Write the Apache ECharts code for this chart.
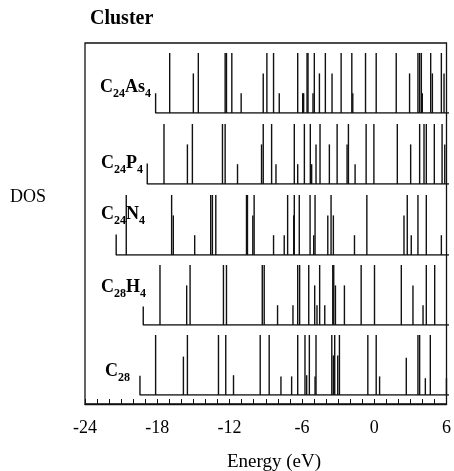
<!DOCTYPE html>
<html>
<head>
<meta charset="utf-8">
<script src="https://cdn.jsdelivr.net/npm/echarts@6/dist/echarts.min.js"></script>
<style>html,body{margin:0;padding:0;background:#fff}#c{width:454px;height:471px}</style>
</head>
<body>
<div id="c"></div>
<script>
// Energy axis
const energyMin = -24;
const energyMax = 6;
const energyStep = 6;

// Panel names (top to bottom) as rich-text parts [main, sub, main, sub]
const clusterNames = [
  ['C', '24', 'As', '4'],
  ['C', '24', 'P', '4'],
  ['C', '24', 'N', '4'],
  ['C', '28', 'H', '4'],
  ['C', '28', '', '']
];

// Lowest level of each spectrum: [energy, edge height]
const spectrumStarts = [
  [-18.18, 0.33],
  [-18.87, 0.34],
  [-21.43, 0.34],
  [-19.20, 0.31],
  [-19.47, 0.32]
];

// Levels: [energy (eV), relative height]
const c24as4Levels = [
  [-17.02, 1], [-15.07, 0.66], [-14.66, 1], [-12.45, 1], [-12.34, 1], [-11.90, 1],
  [-11.13, 0.33], [-9.31, 0.66], [-9.01, 1], [-8.46, 1], [-7.99, 0.33], [-6.47, 1],
  [-6.06, 0.33], [-5.98, 0.33], [-5.70, 1], [-5.62, 1], [-5.21, 0.33], [-5.10, 1],
  [-4.68, 0.66], [-4.19, 1], [-3.64, 0.66], [-2.89, 1], [-2.01, 1], [-1.93, 0.33],
  [-0.88, 1], [0.00, 1], [1.65, 1], [2.75, 0.66], [3.44, 1], [3.58, 1], [3.72, 1],
  [3.80, 0.33], [4.49, 1], [4.63, 0.66], [5.37, 1], [5.59, 0.66]
];
const c24p4Levels = [
  [-17.49, 1], [-15.56, 0.66], [-15.15, 1], [-12.67, 1], [-12.45, 1], [-11.43, 0.33],
  [-9.45, 0.66], [-9.31, 1], [-8.62, 1], [-8.26, 0.33], [-6.75, 1], [-6.47, 0.33],
  [-5.92, 1], [-5.43, 1], [-5.32, 0.33], [-4.96, 0.66], [-4.63, 1], [-3.86, 0.66],
  [-3.22, 1], [-2.40, 0.66], [-2.29, 1], [-1.74, 0.33], [-0.83, 1], [-0.19, 1],
  [1.74, 1], [2.84, 0.66], [3.58, 1], [3.94, 1], [4.13, 1], [4.79, 1], [5.43, 1],
  [5.65, 0.66]
];
const c24n4Levels = [
  [-20.60, 1], [-16.86, 1], [-16.72, 0.66], [-14.96, 0.33], [-13.64, 1], [-13.50, 1],
  [-13.22, 1], [-10.69, 1], [-10.61, 1], [-10.17, 0.66], [-10.06, 1], [-8.46, 0.33],
  [-7.58, 0.33], [-7.30, 1], [-6.80, 0.66], [-6.75, 1], [-6.34, 1], [-5.45, 1],
  [-5.15, 0.33], [-5.04, 1], [-3.99, 0.66], [-3.72, 1], [-3.53, 0.66], [-1.79, 0.33],
  [-0.77, 1], [2.29, 0.66], [2.56, 1], [2.89, 0.33], [3.44, 1], [4.13, 1], [5.37, 0.33]
];
const c28h4Levels = [
  [-17.82, 1], [-15.62, 0.66], [-15.34, 1], [-12.59, 1], [-12.34, 1], [-9.39, 1],
  [-9.23, 1], [-8.13, 0.33], [-6.86, 0.33], [-6.47, 1], [-6.31, 1], [-5.56, 1],
  [-5.07, 0.66], [-4.88, 0.33], [-4.66, 1], [-4.24, 0.33], [-3.58, 1], [-3.50, 1],
  [-3.36, 0.66], [-2.62, 0.66], [-1.24, 1], [-0.14, 1], [2.07, 1], [3.03, 0.66],
  [3.86, 0.33], [4.13, 1], [4.82, 1]
];
const c28Levels = [
  [-18.18, 1], [-15.89, 0.64], [-15.56, 1], [-13.00, 1], [-12.40, 1], [-11.76, 0.33],
  [-9.56, 1], [-8.82, 1], [-7.85, 0.31], [-6.97, 0.31], [-6.47, 1], [-5.87, 1],
  [-5.73, 0.33], [-5.51, 1], [-5.04, 0.31], [-4.96, 1], [-3.66, 1], [-3.53, 0.66],
  [-3.42, 1], [-3.17, 0.66], [-3.03, 1], [-0.69, 1], [0.00, 1], [0.28, 0.31],
  [2.48, 0.62], [3.44, 1], [3.58, 1], [4.05, 0.28], [4.46, 1], [5.79, 0.28]
];
const allLevels = [c24as4Levels, c24p4Levels, c24n4Levels, c28h4Levels, c28Levels];

const serif = '"Liberation Serif", "DejaVu Serif", serif';
const ink = '#111';

// layout
const plotLeft = 85, plotWidth = 364;
const panelTops = [53, 124, 195, 265, 335];
const panelHeight = 60;

const grids = [], xAxes = [], yAxes = [], series = [], graphics = [];

panelTops.forEach((top, i) => {
  grids.push({ left: plotLeft, width: plotWidth, top: top, height: panelHeight, show: false });
  xAxes.push({ gridIndex: i, type: 'value', min: energyMin, max: energyMax, show: false });
  yAxes.push({ gridIndex: i, type: 'value', min: 0, max: 1, show: false });
  const start = spectrumStarts[i];
  series.push({
    type: 'line', xAxisIndex: i, yAxisIndex: i, symbol: 'none', silent: true,
    lineStyle: { color: ink, width: 1.4 },
    data: [[start[0], start[1]], [start[0], 0], [energyMax, 0]]
  });
  series.push({
    type: 'bar', xAxisIndex: i, yAxisIndex: i, barWidth: 1.4, silent: true,
    itemStyle: { color: ink },
    data: allLevels[i]
  });
});

// frame grid with energy axis
const fi = panelTops.length;
grids.push({ left: plotLeft, width: plotWidth, top: 43, height: 361, show: true,
  borderColor: ink, borderWidth: 1.3, backgroundColor: 'transparent' });
xAxes.push({
  gridIndex: fi, type: 'value', min: energyMin, max: energyMax, interval: energyStep,
  axisLine: { show: true, lineStyle: { color: ink, width: 1.3 } },
  axisTick: { show: true, inside: true, length: 5, lineStyle: { color: ink } },
  minorTick: { show: true, splitNumber: 6, length: 5, lineStyle: { color: ink } },
  splitLine: { show: false },
  axisLabel: { color: '#000', fontFamily: serif, fontSize: 18, margin: 15 },
  name: ''
});
yAxes.push({ gridIndex: fi, type: 'value', min: 0, max: 1, show: false });

// panel labels
const labelPos = [[100, 89], [101, 165], [101, 216], [101, 289], [105, 373]];
clusterNames.forEach((parts, i) => {
  const txt = `{m|${parts[0]}}{s|${parts[1]}}` + (parts[2] ? `{m|${parts[2]}}{s|${parts[3]}}` : '');
  graphics.push({
    type: 'text', left: labelPos[i][0], top: labelPos[i][1] - 11, z: 10,
    style: {
      text: txt,
      rich: {
        m: { fontFamily: serif, fontWeight: 'bold', fontSize: 18, lineHeight: 18, padding: [0, 0, 4, 0], verticalAlign: 'top', fill: '#000' },
        s: { fontFamily: serif, fontWeight: 'bold', fontSize: 12, lineHeight: 12, padding: [10, 0, 0, 0], verticalAlign: 'top', fill: '#000' }
      }
    }
  });
});
graphics.push({ type: 'text', left: 90, top: 9, style: { text: 'Cluster', font: `bold 20px ${serif}`, fill: '#000' } });
graphics.push({ type: 'text', left: 10, top: 188, style: { text: 'DOS', font: `18px ${serif}`, fill: '#000' } });
graphics.push({ type: 'text', left: 227, top: 453, style: { text: 'Energy (eV)', font: `19px ${serif}`, fill: '#000' } });

const chart = echarts.init(document.getElementById('c'), null, { renderer: 'canvas' });
chart.setOption({
  animation: false,
  backgroundColor: '#fff',
  grid: grids, xAxis: xAxes, yAxis: yAxes, series: series, graphic: graphics
});
</script>
</body>
</html>
